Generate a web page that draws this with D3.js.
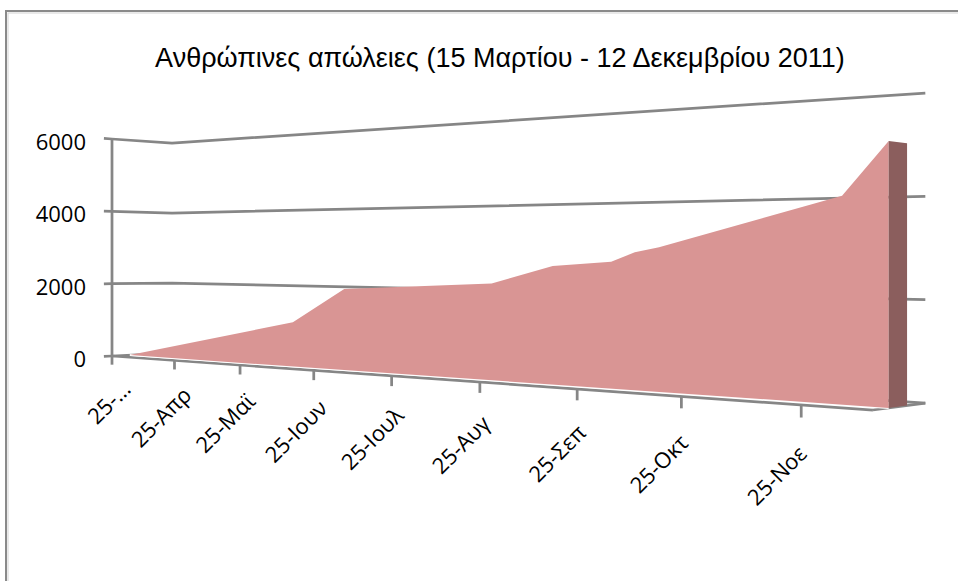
<!DOCTYPE html>
<html lang="el">
<head>
<meta charset="UTF-8">
<title>Ανθρώπινες απώλειες</title>
<script src="https://d3js.org/d3.v7.min.js"></script>
<style>
  body { margin: 0; background: #fff; }
  svg { display: block; }
  .title { font-family: "Liberation Sans", Arial, sans-serif; font-size: 27px; fill: #000; }
  .lbl { font-family: "Open Sans", sans-serif; font-size: 22px; fill: #000; }
  .grid { stroke: #868686; stroke-width: 2.75; fill: none; stroke-linejoin: round; }
</style>
</head>
<body>
<svg width="958" height="581"></svg>
<script>
// data
const dates = ["2011-03-25", "2011-06-09", "2011-06-30", "2011-08-23", "2011-09-12",
               "2011-09-30", "2011-10-07", "2011-10-14", "2011-12-01", "2011-12-12"];
const deaths = [0, 1115, 1985, 2190, 2595, 2700, 2900, 3005, 3990, 4990];
const tickDates = ["2011-03-25", "2011-04-25", "2011-05-25", "2011-06-25", "2011-07-25",
                   "2011-08-25", "2011-09-25", "2011-10-25", "2011-11-25"];
const tickLabels = ["25-…", "25-Απρ", "25-Μαϊ", "25-Ιουν", "25-Ιουλ", "25-Αυγ", "25-Σεπ", "25-Οκτ", "25-Νοε"];
const valueTicks = [0, 2000, 4000, 6000];

const parse = d3.timeParse("%Y-%m-%d");
const svg = d3.select("svg");

// x: date -> 0..1 along the floor, y: value -> 0..1 up the wall
const x = d3.scaleTime()
    .domain([parse("2011-03-25"), parse("2011-12-12")])
    .range([0, 1]);
const y = d3.scaleLinear()
    .domain([0, 6000])
    .range([0, 1]);

// perspective view (z: 0 = front edge of floor, 1 = back wall)
function project(X, Y, Z) {
    const w = 1 - 0.3333 * X + 0.0333 * Z;
    return [(470 * X + 65.73 * Z + 112) / w, (-82.65 * X - 217 * Y + 8.77 * Z + 356) / w];
}
const zFront = 0.29, zBack = 0.64;
const line = d3.line();

// chart border
svg.append("rect")
    .attr("x", 6).attr("y", 11).attr("width", 990).attr("height", 600)
    .attr("fill", "none").attr("stroke", "#8a8a8a").attr("stroke-width", 2);
svg.append("rect")
    .attr("x", 8).attr("y", 13).attr("width", 990).attr("height", 600)
    .attr("fill", "none").attr("stroke", "#d4d4d4").attr("stroke-width", 1);

// title
svg.append("text")
    .attr("class", "title")
    .attr("x", 500).attr("y", 67)
    .attr("text-anchor", "middle")
    .text("Ανθρώπινες απώλειες (15 Μαρτίου - 12 Δεκεμβρίου 2011)");

// gridlines on side wall + back wall
svg.append("g").selectAll("path")
    .data(valueTicks)
    .join("path")
    .attr("class", "grid")
    .attr("d", v => line([project(0, y(v), 0), project(0, y(v), 1), project(1, y(v), 1)]));

// floor right edge
svg.append("path")
    .attr("class", "grid")
    .attr("d", line([project(1, 0, 0), project(1, 0, 1)]));

// category axis line
svg.append("path")
    .attr("class", "grid")
    .attr("stroke-width", 3)
    .attr("d", line([project(0, 0, 0), project(1, 0, 0)]));

// series
const X0 = x(parse(dates[0])), X1 = x(parse(dates[dates.length - 1]));
const lastY = y(deaths[deaths.length - 1]);

svg.append("path")
    .attr("fill", "none").attr("stroke", "#fff").attr("stroke-width", 2)
    .attr("d", line([project(X0, 0, zFront), project(X1, 0, zFront)]));

const topPts = dates.map((d, i) => project(x(parse(d)), y(deaths[i]), zFront));
svg.append("path")
    .attr("fill", "#d99594")
    .attr("d", line(topPts.concat([project(X1, 0, zFront), project(X0, 0, zFront)])) + "Z");

svg.append("path")
    .attr("fill", "#8b5e5d")
    .attr("d", line([project(X1, lastY, zFront), project(X1, lastY, zBack),
                     project(X1, 0, zBack), project(X1, 0, zFront)]) + "Z");

// value axis
svg.append("path")
    .attr("class", "grid").attr("stroke-width", 3)
    .attr("d", line([project(0, 0, 0), project(0, 1, 0)]));
svg.append("g").selectAll("path")
    .data(valueTicks)
    .join("path")
    .attr("class", "grid")
    .attr("d", v => line([project(0, y(v), 0), project(0, y(v), -0.13)]));
svg.append("g").selectAll("text")
    .data(valueTicks)
    .join("text")
    .attr("class", "lbl")
    .attr("text-anchor", "end")
    .attr("x", v => project(0, y(v), 0)[0] - 26)
    .attr("y", v => project(0, y(v), 0)[1] + 11)
    .text(v => v);

// category ticks + rotated labels
svg.append("g").selectAll("path")
    .data(tickDates)
    .join("path")
    .attr("class", "grid")
    .attr("d", d => line([project(x(parse(d)), 0, 0), project(x(parse(d)), -0.04, 0)]));
svg.append("g").selectAll("text")
    .data(tickDates)
    .join("text")
    .attr("class", "lbl")
    .attr("text-anchor", "end")
    .attr("transform", d => {
        const X = x(parse(d));
        const p = project(X, -0.16, 0);
        return `translate(${p[0] + 20 - 14 * X},${p[1]}) rotate(-45)`;
    })
    .text((d, i) => tickLabels[i]);
</script>
</body>
</html>
